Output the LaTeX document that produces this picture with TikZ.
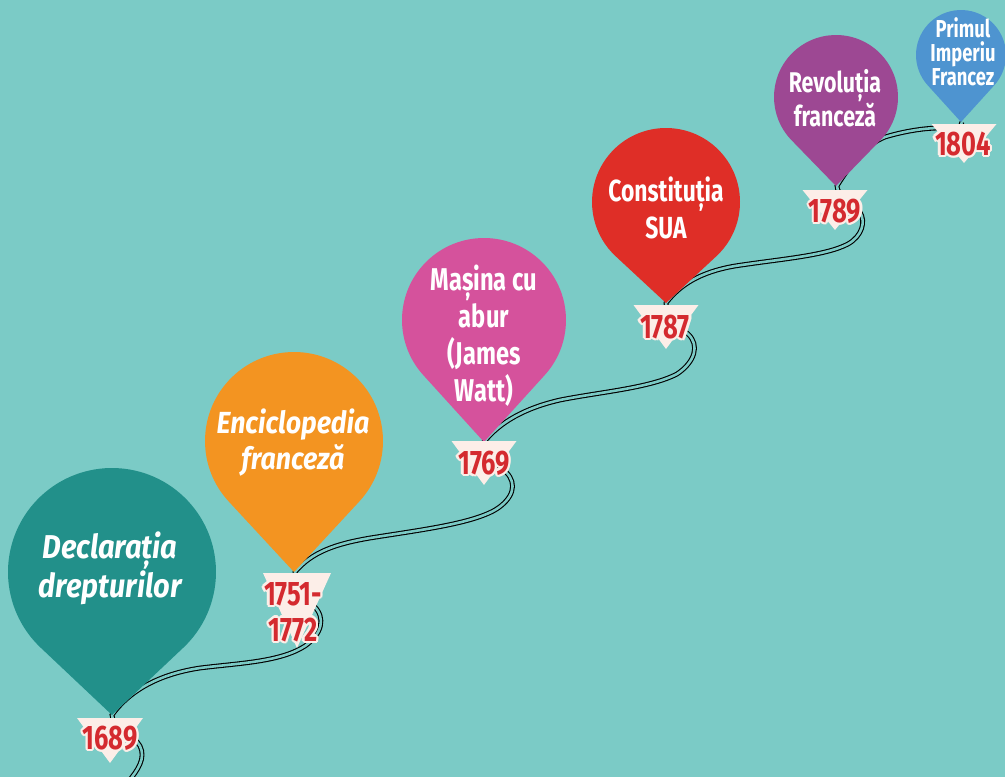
\documentclass[tikz,border=0pt]{standalone}
\usepackage{fontspec}
\newfontfamily\bfont[FakeStretch=0.75]{Fira Sans}
\newfontfamily\ifont[FakeStretch=0.88]{Fira Sans}
\definecolor{bg}{HTML}{7BCBC6}
\definecolor{cteal}{HTML}{22908A}
\definecolor{corange}{HTML}{F39421}
\definecolor{cpink}{HTML}{D5529C}
\definecolor{cred}{HTML}{DF2E27}
\definecolor{cpurple}{HTML}{9D4893}
\definecolor{cblue}{HTML}{4E94D0}
\definecolor{cream}{HTML}{FCEEE8}
\definecolor{yearred}{HTML}{D42A2F}
\newcommand\balloon[5]{%
  \pgfmathsetmacro\ba{acos(#3/(#4-#2))}%
  \fill[#5] (#1,#4) -- ([shift={(#1,#2)}]90-\ba:#3) arc[start angle=90-\ba, end angle=90+\ba-360, radius=#3] -- cycle;
}
\newcommand\labtri[4]{% cx, top, halfwidth, apex
  \fill[cream] (#1-#3,#2) -- (#1+#3,#2) -- (#1,#4) -- cycle;
}
\newcommand\yeartext[3]{% name, position, text
  \foreach \ang in {0,30,...,330}
    \node[yr, text=cream] at ([shift={(\ang:2.3pt)}]#2) {#3};
  \node[yr, text=yearred] (#1) at (#2) {#3};
}
\begin{document}
\begin{tikzpicture}[x=1pt,y=-1pt,
  rope/.style={draw=black, line width=1.1pt, double=bg, double distance=2.6pt},
  btext/.style={text=white, align=center, inner sep=0pt},
  yr/.style={align=center, inner sep=0pt, font=\bfont\bfseries\fontsize{34}{36}\selectfont}]
\fill[bg] (0,0) rectangle (1005,777);
\useasboundingbox (0,0) rectangle (1005,777);
% rope
\draw[rope] (128,782) .. controls (138,770) and (146,758) .. (140,746)
  .. controls (134,734) and (112,728) .. (112,715)
  .. controls (130,690) and (160,674) .. (200,668)
  .. controls (240,663) and (280,662) .. (305,646)
  .. controls (322,634) and (326,618) .. (314,606)
  .. controls (303,595) and (295,585) .. (295,572)
  .. controls (312,552) and (335,544) .. (370,538)
  .. controls (420,530) and (470,524) .. (495,510)
  .. controls (513,499) and (518,484) .. (506,472)
  .. controls (495,462) and (484,455) .. (484,442)
  .. controls (500,422) and (525,408) .. (560,400)
  .. controls (600,392) and (650,388) .. (677,374)
  .. controls (695,362) and (700,345) .. (688,334)
  .. controls (676,323) and (666,315) .. (666,303)
  .. controls (680,285) and (700,272) .. (735,266)
  .. controls (780,259) and (825,256) .. (848,244)
  .. controls (862,236) and (866,222) .. (860,212)
  .. controls (852,200) and (837,196) .. (837,186)
  .. controls (850,165) and (865,145) .. (885,137)
  .. controls (905,131) and (925,128) .. (940,128)
  .. controls (955,128) and (962,128) .. (962,122);
% balloons
\balloon{112}{572}{104}{715}{cteal}
\balloon{294}{441}{89}{572}{corange}
\balloon{484}{320}{82}{442}{cpink}
\balloon{666}{202}{74}{303}{cred}
\balloon{836}{97}{62}{186}{cpurple}
\balloon{961}{55}{45}{122}{cblue}
% balloon texts
\node[btext, font=\ifont\bfseries\itshape\fontsize{33}{39}\selectfont] (t1) at (110,568) {Declarația\\drepturilor};
\node[btext, font=\ifont\bfseries\itshape\fontsize{30.5}{36}\selectfont] (t2) at (293,443) {Enciclopedia\\franceză};
\node[btext, font=\bfont\bfseries\fontsize{31.5}{37}\selectfont] (t3) at (484,336) {Mașina cu\\abur\\(James\\Watt)};
\node[btext, font=\bfont\bfseries\fontsize{30.5}{37}\selectfont] (t4) at (666,208) {Constituția\\SUA};
\node[btext, font=\bfont\bfseries\fontsize{28.5}{34}\selectfont] (t5) at (835,98) {Revoluția\\franceză};
\node[btext, font=\bfont\bfseries\fontsize{24.5}{24}\selectfont] (t6) at (963,52) {Primul\\Imperiu\\Francez};
% year labels
\labtri{110}{718}{33}{763}
\labtri{297}{573}{34}{648}
\labtri{484}{441}{32.5}{485}
\labtri{666}{305}{32.5}{349}
\labtri{835}{190}{32.5}{230}
\labtri{964}{124}{32.5}{163}
\yeartext{y1}{110,738}{1689}
\yeartext{y2}{293,612}{1751-\\1772}
\yeartext{y3}{484,463}{1769}
\yeartext{y4}{665,327}{1787}
\yeartext{y5}{835,211}{1789}
\yeartext{y6}{963,144}{1804}
\end{tikzpicture}
\end{document}
